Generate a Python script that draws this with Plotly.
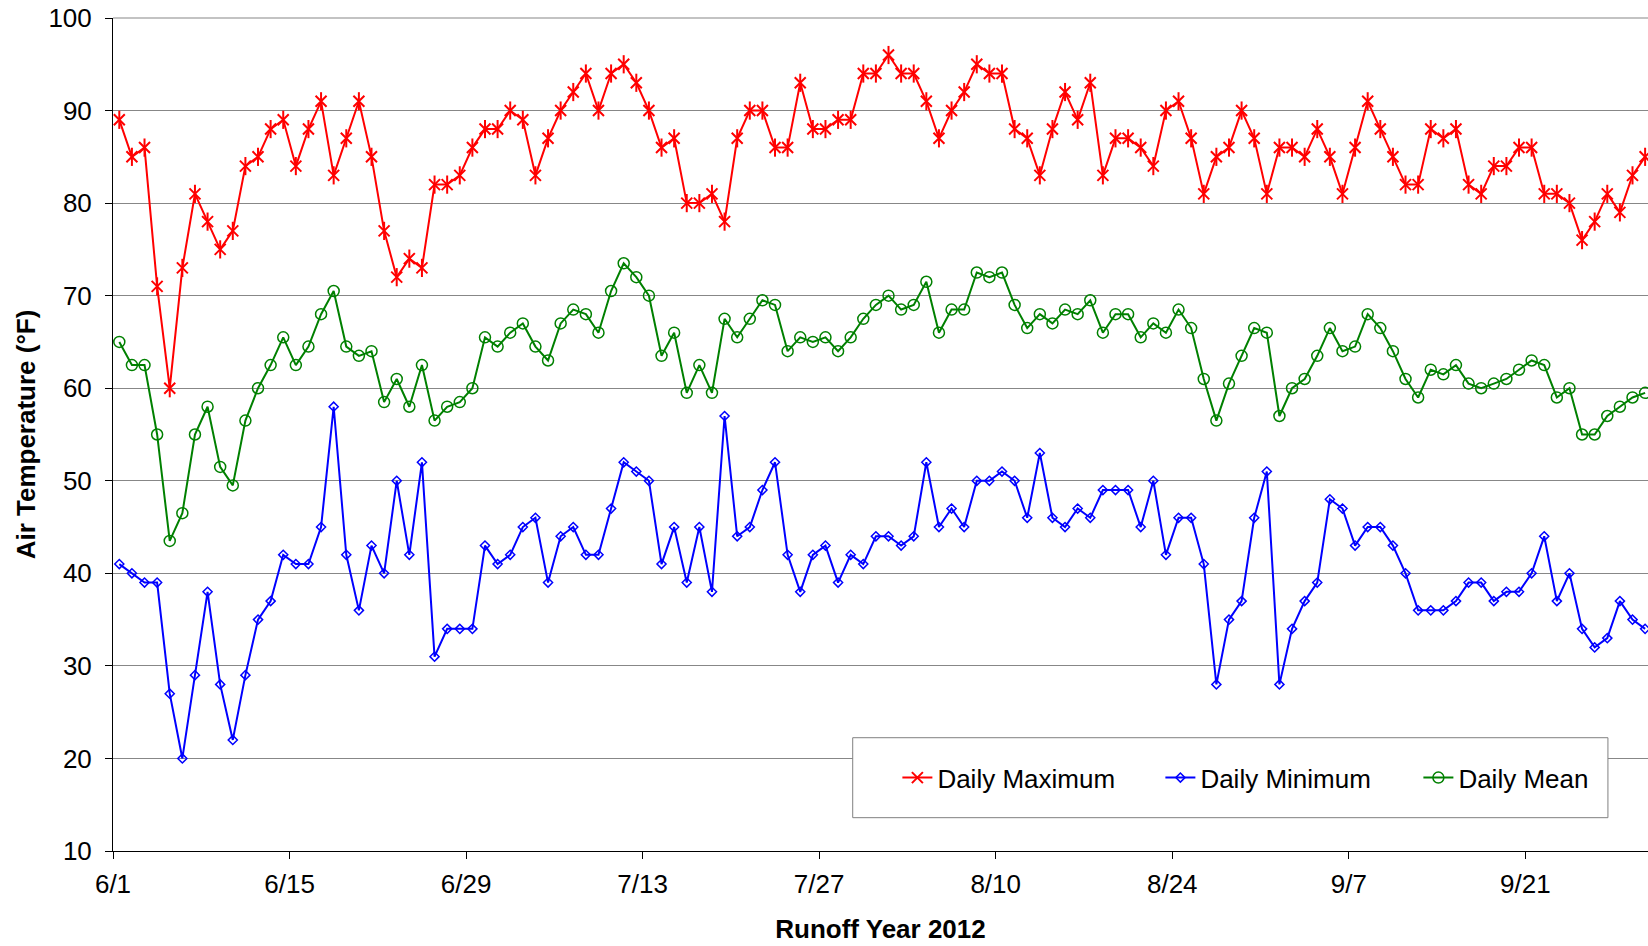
import plotly.graph_objects as go
import pandas as pd

# one reading per day, 6/1 - 9/30 (points sit mid-day like the Excel date axis)
dates = pd.date_range("2012-06-01 12:00", periods=122, freq="D")

daily_max = [
    89, 85, 86, 71, 60, 73, 81, 78, 75, 77, 84, 85, 88, 89, 84, 88, 91, 83, 87, 91, 85, 77,
    72, 74, 73, 82, 82, 83, 86, 88, 88, 90, 89, 83, 87, 90, 92, 94, 90, 94, 95, 93, 90, 86,
    87, 80, 80, 81, 78, 87, 90, 90, 86, 86, 93, 88, 88, 89, 89, 94, 94, 96, 94, 94, 91, 87,
    90, 92, 95, 94, 94, 88, 87, 83, 88, 92, 89, 93, 83, 87, 87, 86, 84, 90, 91, 87, 81, 85,
    86, 90, 87, 81, 86, 86, 85, 88, 85, 81, 86, 91, 88, 85, 82, 82, 88, 87, 88, 82, 81,
    84, 84, 86, 86, 81, 81, 80, 76, 78, 81, 79, 83, 85,
]

daily_min = [
    41, 40, 39, 39, 27, 20, 29, 38, 28, 22, 29, 35, 37, 42, 41, 41, 45, 58, 42, 36, 43, 40,
    50, 42, 52, 31, 34, 34, 34, 43, 41, 42, 45, 46, 39, 44, 45, 42, 42, 47, 52, 51, 50, 41,
    45, 39, 45, 38, 57, 44, 45, 49, 52, 42, 38, 42, 43, 39, 42, 41, 44, 44, 43, 44, 52, 45,
    47, 45, 50, 50, 51, 50, 46, 53, 46, 45, 47, 46, 49, 49, 49, 45, 50, 42, 46, 46, 41, 28,
    35, 37, 46, 51, 28, 34, 37, 39, 48, 47, 43, 45, 45, 43, 40, 36, 36, 36, 37, 39, 39,
    37, 38, 38, 40, 44, 37, 40, 34, 32, 33, 37, 35, 34,
]

daily_mean = [
    65, 62.5, 62.5, 55, 43.5, 46.5, 55, 58, 51.5, 49.5, 56.5, 60, 62.5, 65.5, 62.5, 64.5,
    68, 70.5, 64.5, 63.5, 64, 58.5,
    61, 58, 62.5, 56.5, 58, 58.5, 60, 65.5, 64.5, 66, 67, 64.5, 63, 67, 68.5, 68, 66, 70.5,
    73.5, 72, 70, 63.5,
    66, 59.5, 62.5, 59.5, 67.5, 65.5, 67.5, 69.5, 69, 64, 65.5, 65, 65.5, 64, 65.5, 67.5,
    69, 70, 68.5, 69, 71.5, 66,
    68.5, 68.5, 72.5, 72, 72.5, 69, 66.5, 68, 67, 68.5, 68, 69.5, 66, 68, 68, 65.5, 67, 66,
    68.5, 66.5, 61, 56.5,
    60.5, 63.5, 66.5, 66, 57, 60, 61, 63.5, 66.5, 64, 64.5, 68, 66.5, 64, 61, 59, 62, 61.5,
    62.5, 60.5, 60,
    60.5, 61, 62, 63, 62.5, 59, 60, 55, 55, 57, 58, 59, 59.5,
]

font = "Arial, Liberation Sans, sans-serif"

fig = go.Figure()

# Daily max: Excel star marker = x plus a vertical bar
fig.add_trace(go.Scatter(
    x=dates, y=daily_max, name="Daily Maximum", mode="lines+markers",
    line=dict(color="#FF0000", width=2), legendwidth=218,
    marker=dict(symbol="x-thin-open", size=11, color="#FF0000",
                line=dict(color="#FF0000", width=2)),
))
fig.add_trace(go.Scatter(
    x=dates, y=daily_max, mode="markers", showlegend=False, hoverinfo="skip",
    marker=dict(symbol="line-ns-open", size=13, color="#FF0000",
                line=dict(color="#FF0000", width=2)),
))

fig.add_trace(go.Scatter(
    x=dates, y=daily_min, name="Daily Minimum", mode="lines+markers",
    line=dict(color="#0000FF", width=2), legendwidth=213,
    marker=dict(symbol="diamond-open", size=7, color="#0000FF",
                line=dict(color="#0000FF", width=1.5)),
))

fig.add_trace(go.Scatter(
    x=dates, y=daily_mean, name="Daily Mean", mode="lines+markers",
    line=dict(color="#008000", width=2),
    marker=dict(symbol="circle-open", size=11, color="#008000",
                line=dict(color="#008000", width=1.5)),
))

fig.update_layout(
    width=1648, height=946, autosize=False,
    margin=dict(l=113, r=0, t=18, b=95),
    paper_bgcolor="white", plot_bgcolor="white",
    font=dict(family=font, size=26, color="black"),
    showlegend=True,
    legend=dict(
        orientation="h", x=0.511, y=0.088, xanchor="left", yanchor="middle",
        bgcolor="rgba(0,0,0,0)", borderwidth=0,
        font=dict(family=font, size=26, color="black"),
    ),
    shapes=[
        # legend frame drawn as a shape so it can be taller than the entries
        dict(type="rect", xref="paper", yref="paper",
             x0=0.4819, x1=0.9739, y0=0.040, y1=0.136,
             line=dict(color="#808080", width=1), fillcolor="white", layer="above"),
        # top gridline (plotly skips the grid at the range edge)
        dict(type="line", xref="paper", yref="paper", x0=0, x1=1, y0=1, y1=1,
             line=dict(color="#878787", width=1), layer="below"),
    ],
    xaxis=dict(
        type="date",
        range=["2012-06-01 00:00", "2012-09-30 17:30"],
        tick0="2012-06-01", dtick=14 * 86400000, tickformat="%-m/%-d",
        showgrid=False, zeroline=False,
        showline=True, linecolor="black", linewidth=1,
        ticks="outside", ticklen=7, tickcolor="black",
        tickfont=dict(size=26), ticklabelstandoff=3,
        title=dict(text="<b>Runoff Year 2012</b>", font=dict(size=26), standoff=21),
    ),
    yaxis=dict(
        range=[10, 100], dtick=10,
        showgrid=True, gridcolor="#878787", gridwidth=1, zeroline=False,
        showline=True, linecolor="black", linewidth=1,
        ticks="outside", ticklen=7, tickcolor="black",
        tickfont=dict(size=26), ticklabelstandoff=8,
        title=dict(text="<b>Air Temperature (°F)</b>", font=dict(size=26), standoff=5),
    ),
)

# drop the browser's default 8px body margin so the figure fills the window exactly
fig.write_html("out.html", config={"displayModeBar": False},
               post_script="document.body.style.margin='0';")
